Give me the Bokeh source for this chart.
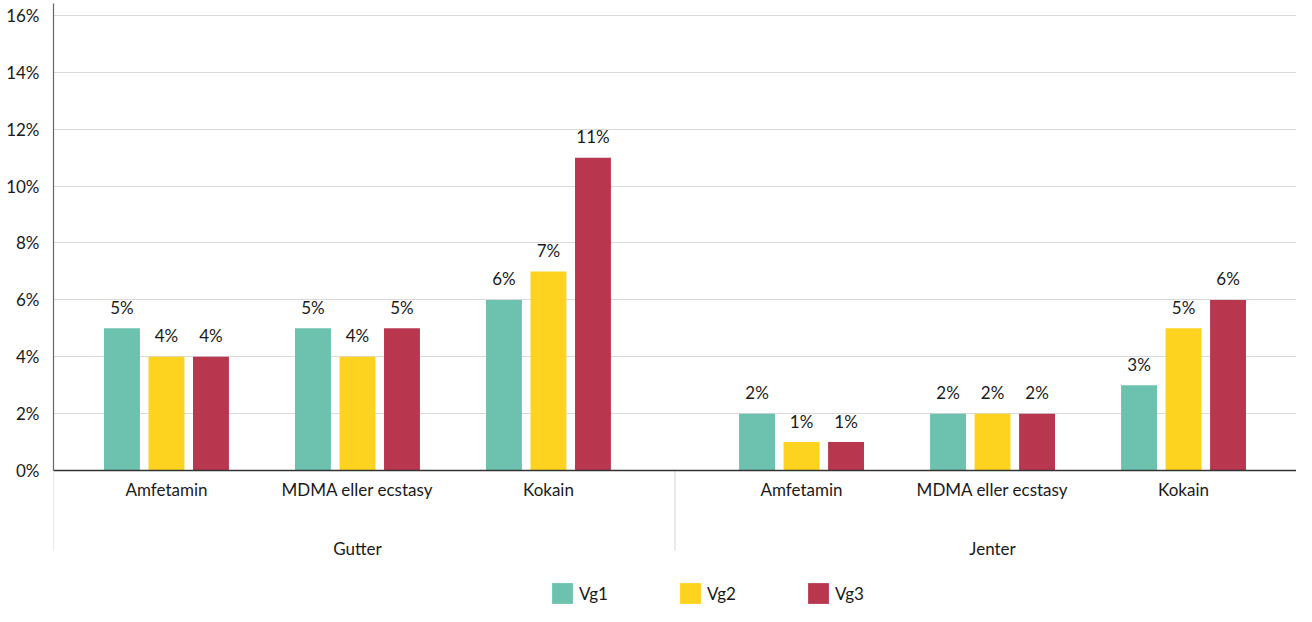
from bokeh.plotting import figure
from bokeh.models import (FactorRange, ColumnDataSource, FixedTicker, PrintfTickFormatter,
                          Legend, LegendItem, Range1d, Span)
from bokeh.transform import dodge
from bokeh.embed import file_html
from bokeh.resources import INLINE
from bokeh.core.properties import value

groups = ["Gutter", "Jenter"]
categories = ["Amfetamin", "MDMA eller ecstasy", "Kokain"]
series = ["Vg1", "Vg2", "Vg3"]
vg1 = [5, 5, 6, 2, 2, 3]
vg2 = [4, 4, 7, 1, 2, 5]
vg3 = [4, 5, 11, 1, 2, 6]
y_ticks = [0, 2, 4, 6, 8, 10, 12, 14, 16]
colors = ["#6cc2ae", "#fdd31f", "#b8374f"]

FONT = "Lato"
TXT = "#1a1a1a"
GROUP_PAD = 0.325
PAD = 0.0915
Y_TOP = 16.42
Y_BOTTOM = -4.78
SEP_DEPTH = -2.81  # depth of the separator lines below the baseline

factors = [(g, c) for g in groups for c in categories]
data = dict(x=factors, cat=[c for _, c in factors], Vg1=vg1, Vg2=vg2, Vg3=vg3)
for s, vals in zip(series, [vg1, vg2, vg3]):
    data[s + "_lab"] = [f"{v}%" for v in vals]
source = ColumnDataSource(data)

x_range = FactorRange(*factors, group_padding=GROUP_PAD, range_padding=PAD,
                      range_padding_units="absolute")

p = figure(x_range=x_range, y_range=Range1d(Y_BOTTOM, Y_TOP), width=1296, height=606,
           output_backend="svg", toolbar_location=None, x_axis_location=None,
           min_border_left=53, min_border_right=0, min_border_top=3, min_border_bottom=0)
p.outline_line_color = None
p.background_fill_color = "white"

p.xgrid.grid_line_color = None
p.ygrid.ticker = FixedTicker(ticks=y_ticks)
p.ygrid.grid_line_color = "#d9d9d9"
p.ygrid.grid_line_width = 1

# separators below the baseline (left edge and between groups)
n_per_group = len(categories)
sep_x = [-PAD, n_per_group + GROUP_PAD / 2]
p.segment(x0=sep_x, x1=sep_x, y0=[0, 0], y1=[SEP_DEPTH, SEP_DEPTH],
          line_color="#dcdcdc", line_width=1.2)

# baseline
p.add_layout(Span(location=0, dimension="width", line_color="#333333", line_width=1.5))

offsets = [-0.233, 0.0, 0.233]
renderers = []
for s, c, off in zip(series, colors, offsets):
    r = p.vbar(x=dodge("x", off, range=p.x_range), top=s, width=0.188, source=source,
               fill_color=c, line_color=None)
    renderers.append(r)
    p.text(x=dodge("x", off, range=p.x_range), y=s, text=s + "_lab", source=source,
           text_align="center", text_baseline="alphabetic", y_offset=-21,
           text_font=value(FONT), text_font_size="17px", text_color=TXT)

# category labels
p.text(x="x", y=0, text="cat", source=source, text_align="center", text_baseline="middle",
       y_offset=19, text_font=value(FONT), text_font_size="17px", text_color=TXT)

# group labels, centred on each group's middle category
gsrc = ColumnDataSource(dict(x=[(g, categories[1]) for g in groups], text=groups))
p.text(x="x", y=0, text="text", source=gsrc, text_align="center", text_baseline="middle",
       y_offset=78, text_font=value(FONT), text_font_size="17px", text_color=TXT)

# y axis
ya = p.yaxis[0]
ya.bounds = (0, Y_TOP)
ya.ticker = FixedTicker(ticks=y_ticks)
ya.formatter = PrintfTickFormatter(format="%d%%")
ya.major_tick_line_color = None
ya.minor_tick_line_color = None
ya.major_tick_out = 0
ya.major_label_standoff = 14
ya.axis_line_color = "#666666"
ya.axis_line_width = 1.2
ya.major_label_text_font = FONT
ya.major_label_text_font_size = "17px"
ya.major_label_text_color = TXT

legend = Legend(items=[LegendItem(label=s, renderers=[r]) for s, r in zip(series, renderers)],
                orientation="horizontal", location=(496, 0),
                glyph_width=26, glyph_height=26, label_standoff=4, label_width=98,
                spacing=0, padding=0, margin=0, border_line_color=None,
                background_fill_alpha=0,
                label_text_font=FONT, label_text_font_size="17px", label_text_color=TXT)
p.add_layout(legend)

open("out.html", "w").write(file_html(p, INLINE))
